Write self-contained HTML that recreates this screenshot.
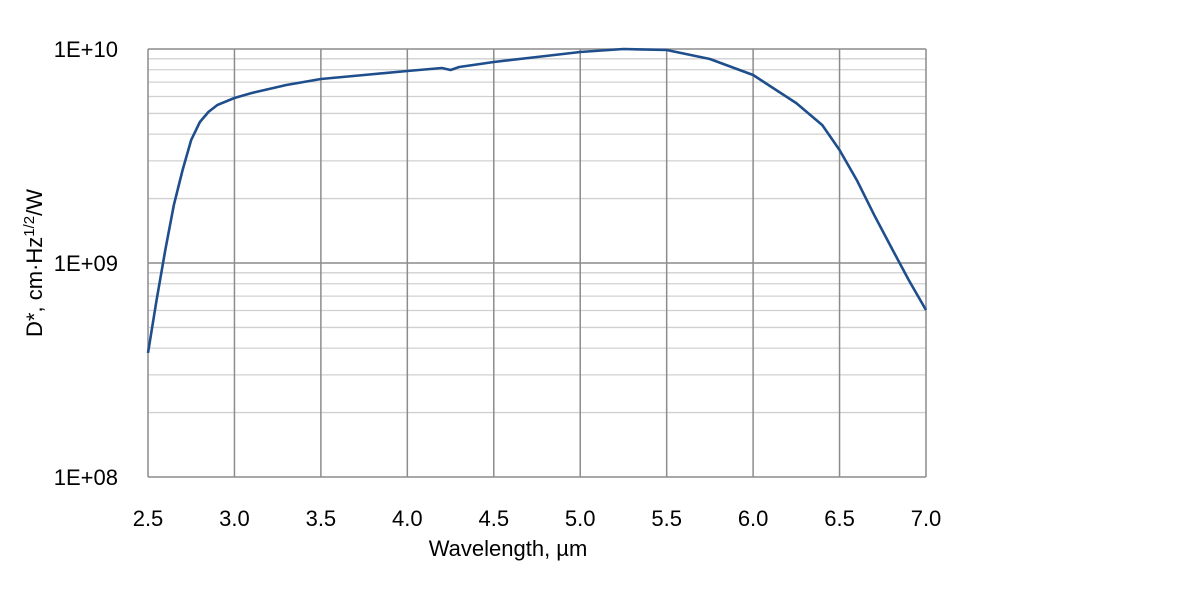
<!DOCTYPE html>
<html><head><meta charset="utf-8"><style>
html,body{margin:0;padding:0;background:#fff;}
svg text{font-family:"Liberation Sans",sans-serif;fill:#000;}
</style></head><body>
<svg id="chart" width="1200" height="600" viewBox="0 0 1200 600" xmlns="http://www.w3.org/2000/svg">
<g id="grid"></g>
<g id="series"></g>
<g id="labels"></g>
<text x="508" y="556" font-size="22" text-anchor="middle">Wavelength, µm</text>
<text transform="translate(42,263) rotate(-90)" font-size="22" text-anchor="middle">D*, cm·Hz<tspan dy="-8" font-size="15">1/2</tspan><tspan dy="8">/W</tspan></text>
</svg>
<script>
const wavelengths=[2.5,2.55,2.6,2.65,2.7,2.75,2.8,2.85,2.9,3.0,3.1,3.2,3.3,3.5,3.75,4.0,4.2,4.25,4.3,4.5,4.75,5.0,5.25,5.5,5.75,6.0,6.25,6.4,6.5,6.6,6.7,6.8,6.9,7.0];
const dstar=[3.8e8,6.72e8,1.15e9,1.87e9,2.72e9,3.76e9,4.56e9,5.08e9,5.47e9,5.9e9,6.23e9,6.5e9,6.79e9,7.24e9,7.56e9,7.89e9,8.15e9,7.98e9,8.24e9,8.69e9,9.18e9,9.68e9,1.0e10,9.89e9,8.98e9,7.56e9,5.59e9,4.41e9,3.37e9,2.44e9,1.68e9,1.18e9,8.33e8,6.03e8];
const xTicks=[2.5,3.0,3.5,4.0,4.5,5.0,5.5,6.0,6.5,7.0];
const yTicks=[1e8,1e9,1e10];
const yTickLabels=["1E+08","1E+09","1E+10"];
const NS="http://www.w3.org/2000/svg";
const X0=148,X1=926,Y0=477,Y1=49;
const xs=v=>X0+(v-2.5)/(7-2.5)*(X1-X0);
const ys=v=>Y0-(Math.log10(v)-8)/2*(Y0-Y1);
function mk(tag,attrs,parent){const e=document.createElementNS(NS,tag);for(const k in attrs)e.setAttribute(k,attrs[k]);parent.appendChild(e);return e;}
const grid=document.getElementById('grid'),lab=document.getElementById('labels'),ser=document.getElementById('series');
for(let d=8;d<10;d++)for(let m=2;m<=9;m++){const y=ys(m*Math.pow(10,d));
 const l=mk('line',{x1:X0,x2:X1,y1:y,y2:y,stroke:'#d0d0d0','stroke-width':1.3},grid);
 
 }
xTicks.forEach(t=>{const x=xs(t);
 const l=mk('line',{x1:x,x2:x,y1:Y1,y2:Y0,stroke:'#8c8c8c','stroke-width':1.5},grid);
 
 
 const tx=mk('text',{x:x,y:526,'font-size':22,'text-anchor':'middle'},lab);tx.textContent=t.toFixed(1);
 
 });
yTicks.forEach((t,i)=>{const y=ys(t);
 const l=mk('line',{x1:X0,x2:X1,y1:y,y2:y,stroke:'#8c8c8c','stroke-width':1.5},grid);
 
 
 const tx=mk('text',{x:118,y:y+8,'font-size':22,'text-anchor':'end'},lab);tx.textContent=yTickLabels[i];
 
 });
const pts=wavelengths.map((w,i)=>xs(w).toFixed(1)+','+ys(dstar[i]).toFixed(1)).join(' ');
const pl=mk('polyline',{points:pts,fill:'none',stroke:'#1f4e8c','stroke-width':2.6,'stroke-linejoin':'round'},ser);


</script>
</body></html>
